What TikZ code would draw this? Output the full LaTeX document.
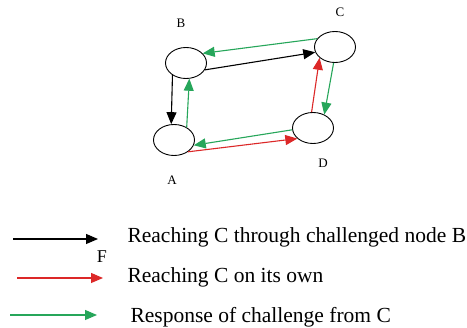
\documentclass[tikz,border=0pt]{standalone}
\usepackage{fontspec}
\setmainfont{Liberation Serif}
\newfontfamily\legendfont{Liberation Serif}
\usetikzlibrary{arrows.meta,shapes.geometric}
\definecolor{chgreen}{RGB}{38,166,90}
\definecolor{chred}{RGB}{220,40,40}
\begin{document}
\begin{tikzpicture}[x=1pt,y=-1pt,
  peer/.style={draw,line width=0.9pt,ellipse,minimum width=41pt,minimum height=31pt,inner sep=0pt},
  plabel/.style={font=\legendfont\fontsize{13}{15}\selectfont},
  link/.style={line width=1.1pt,-{Triangle[length=12pt,width=10pt]}},
  legtext/.style={anchor=west,font=\legendfont\fontsize{21.5}{24}\selectfont}]
\useasboundingbox[fill=white] (0,0) rectangle (467,328);

% peers
\node[peer] (B) at (186,63) {};
\node[peer] (C) at (335,47) {};
\node[peer] (D) at (313,128) {};
\node[peer] (A) at (174,140) {};

\node[plabel] (lB) at (181,23) {B};
\node[plabel] (lC) at (340,12) {C};
\node[plabel] (lA) at (172,180) {A};
\node[plabel] (lD) at (323,163) {D};

% reaching C through B
\draw[link,black] (B.222) -- (A.100);
\draw[link,black] (B.340) -- (C.195);
% reaching C directly
\draw[link,chred] (A.320) -- (D.214);
\draw[link,chred] (D.95) -- (C.215);
% challenge responses from C
\draw[link,chgreen] (C.155) -- (B.30);
\draw[link,chgreen] (A.45) -- (B.282);
\draw[link,chgreen] (C.265) -- (D.50);
\draw[link,chgreen] (D.185) -- (A.345);

% legend
\coordinate (k1s) at (13,239);  \coordinate (k1e) at (98,239);
\coordinate (k2s) at (17,278);  \coordinate (k2e) at (103,278);
\coordinate (k3s) at (10,315);  \coordinate (k3e) at (97,315);
\draw[link,black] (k1s) -- (k1e);
\draw[link,chred] (k2s) -- (k2e);
\draw[link,chgreen] (k3s) -- (k3e);
\node[legtext] (t1) at (124,237) {Reaching C through challenged node B};
\node[legtext] (t2) at (124,277) {Reaching C on its own};
\node[legtext] (t3) at (127,317) {Response of challenge from C};
\node[font=\legendfont\fontsize{18}{20}\selectfont] (F) at (102,257) {F};
\end{tikzpicture}
\end{document}
